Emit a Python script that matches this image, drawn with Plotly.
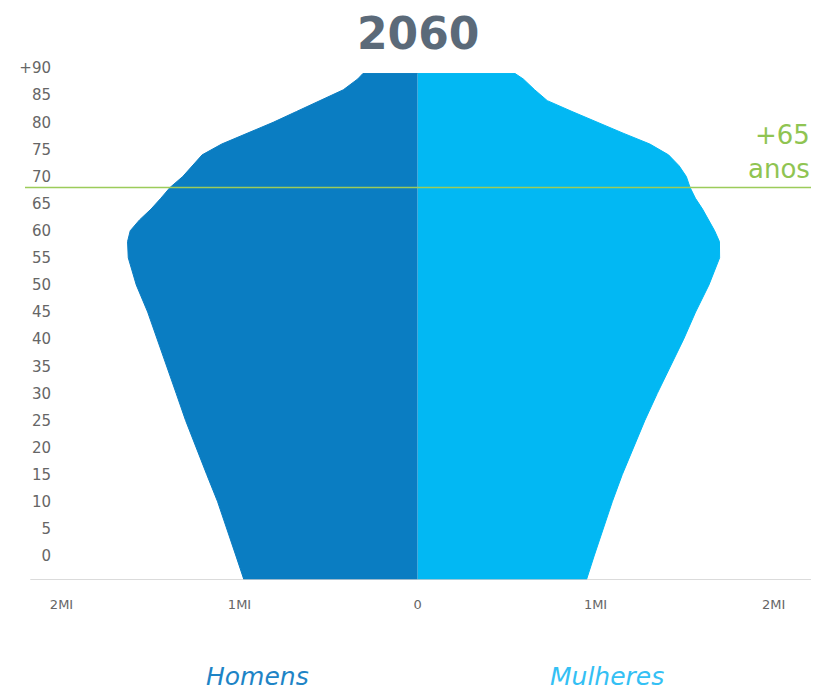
import plotly.graph_objects as go

# ---- data (ages and population per single year of age, in millions) ----
ages = [0, 5, 10, 15, 20, 25, 30, 35, 40, 45, 50, 55, 58, 60, 62, 64, 66, 68,
        70, 72, 74, 76, 78, 80, 82, 84, 86, 88, 89]
homens = [1.020, 1.071, 1.123, 1.184, 1.245, 1.303, 1.356, 1.408, 1.462, 1.516,
          1.580, 1.625, 1.629, 1.614, 1.562, 1.497, 1.442, 1.390, 1.319, 1.264,
          1.210, 1.100, 0.954, 0.811, 0.680, 0.546, 0.417, 0.336, 0.307]
mulheres = [0.992, 1.041, 1.094, 1.150, 1.212, 1.277, 1.347, 1.421, 1.495, 1.562,
            1.637, 1.697, 1.696, 1.669, 1.636, 1.601, 1.561, 1.531, 1.510, 1.469,
            1.410, 1.305, 1.155, 1.009, 0.868, 0.729, 0.658, 0.594, 0.548]
age_ticks = list(range(0, 95, 5))
age_tick_labels = [str(a) if a < 90 else "+90" for a in age_ticks]
pop_ticks = [-2, -1, 0, 1, 2]
pop_tick_labels = ["2MI", "1MI", "0", "1MI", "2MI"]
linha_idosos = 68.0
titulo = "2060"

# ---- layout constants ----
Y_MIN, Y_MAX = -4.43, 91.5
X_MIN, X_MAX = -2.031, 2.216
C_HOM = "#0a7dc2"
C_MUL = "#02b8f3"
PLOT_W = 756


def extend_bottom(w):
    # continue the lowest slope down to the bottom of the axis
    slope = (w[1] - w[0]) / (ages[1] - ages[0])
    return w[0] + slope * (Y_MIN - ages[0])


def polygon(widths, sign):
    xs = [0, sign * extend_bottom(widths)] + [sign * v for v in widths] + [0]
    ys = [Y_MIN, Y_MIN] + ages + [ages[-1]]
    return xs, ys


fig = go.Figure()
for vals, sign, col, name in [(mulheres, 1, C_MUL, "Mulheres"), (homens, -1, C_HOM, "Homens")]:
    xs, ys = polygon(vals, sign)
    fig.add_trace(go.Scatter(x=xs, y=ys, fill="toself", fillcolor=col, mode="lines",
                             line=dict(width=1, color=col), name=name,
                             hoverinfo="skip", showlegend=False))

# baseline
fig.add_shape(type="line", xref="paper", yref="y", x0=-0.034, x1=1.0, y0=Y_MIN, y1=Y_MIN,
              line=dict(color="#cfcfcf", width=1.5), layer="above")
# +65 line
fig.add_shape(type="line", xref="paper", yref="y", x0=-0.041, x1=1.002,
              y0=linha_idosos, y1=linha_idosos,
              line=dict(color="#9ccc5a", width=1.5), layer="above")

green = "#8fc452"
fig.add_annotation(text="+65<br>anos", xref="paper", yref="y", x=1.0, y=linha_idosos,
                   xanchor="right", yanchor="bottom", yshift=1, align="right",
                   showarrow=False,
                   font=dict(family="DejaVu Sans", size=26, color=green))

fig.add_annotation(text=titulo, xref="paper", yref="paper", x=(417.5 - 56) / PLOT_W,
                   xanchor="center", y=1.0, yanchor="bottom", yshift=-1, showarrow=False,
                   font=dict(family="DejaVu Sans", size=44, color="#5b6a79", weight="bold"))

fig.add_annotation(text="<i>Homens</i>", xref="paper", yref="paper", x=(257 - 56) / PLOT_W,
                   xanchor="center", y=-0.186, yanchor="middle", showarrow=False,
                   font=dict(family="DejaVu Sans", size=25, color="#1e84c6"))
fig.add_annotation(text="<i>Mulheres</i>", xref="paper", yref="paper", x=(607 - 56) / PLOT_W,
                   xanchor="center", y=-0.186, yanchor="middle", showarrow=False,
                   font=dict(family="DejaVu Sans", size=25, color="#34c0f4"))

# the page body adds an 8px offset, so the figure is drawn 8px smaller
fig.update_layout(
    width=811, height=682,
    margin=dict(l=48, r=7, t=52, b=110),
    paper_bgcolor="white", plot_bgcolor="white",
    xaxis=dict(range=[X_MIN, X_MAX], tickvals=pop_ticks, ticktext=pop_tick_labels,
               showgrid=False, zeroline=False, showline=False, ticks="",
               ticklabelstandoff=15, automargin=False,
               tickfont=dict(family="DejaVu Sans", size=13, color="#666666"),
               fixedrange=True),
    yaxis=dict(range=[Y_MIN, Y_MAX], tickvals=age_ticks, ticktext=age_tick_labels,
               showgrid=False, zeroline=False, showline=False, ticks="",
               ticklabelstandoff=4, automargin=False,
               tickfont=dict(family="DejaVu Sans", size=15, color="#666666"),
               fixedrange=True),
)

fig.write_html("out.html")
